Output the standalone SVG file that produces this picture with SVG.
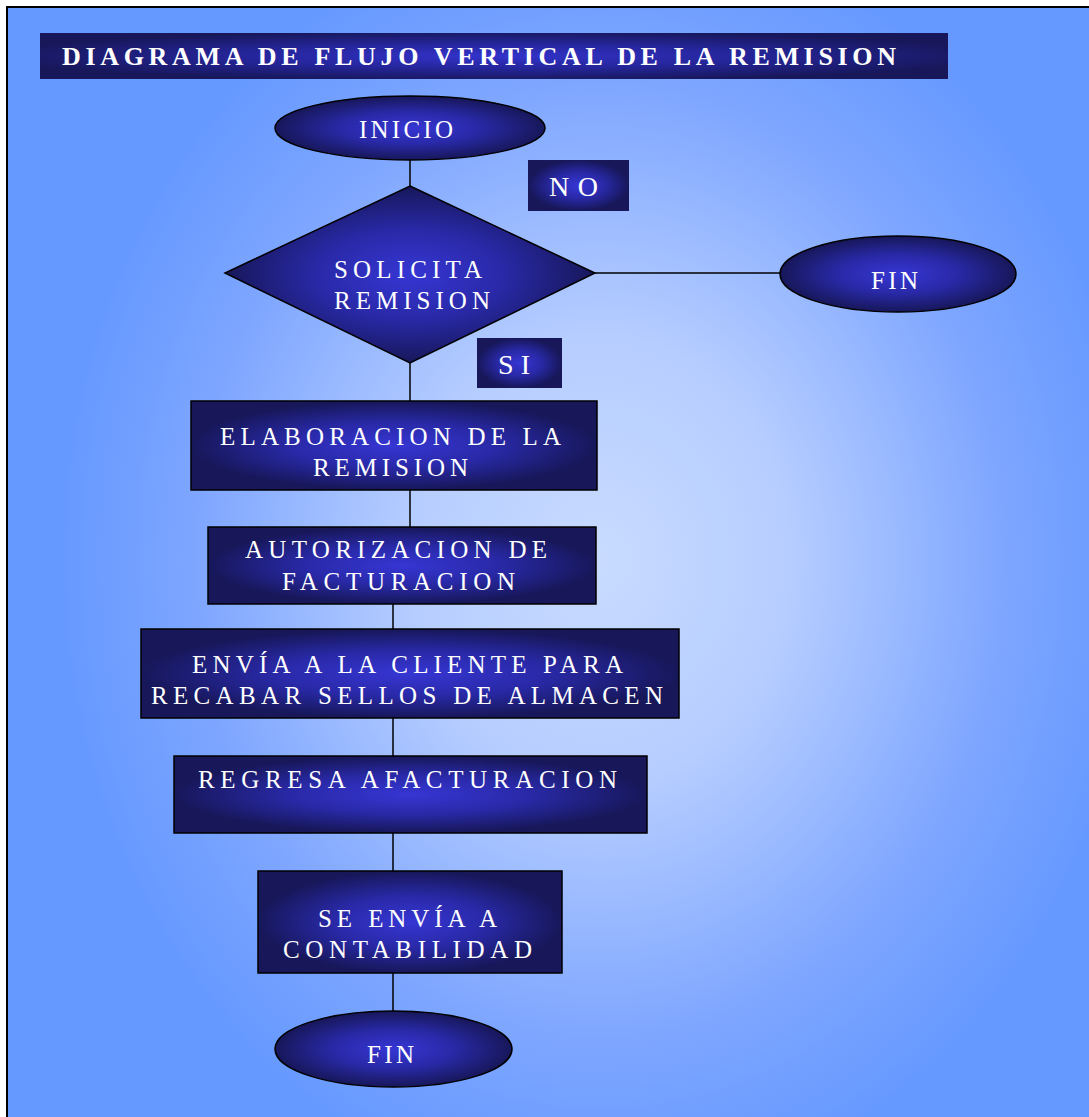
<svg xmlns="http://www.w3.org/2000/svg" width="1089" height="1117" viewBox="0 0 1089 1117">
  <defs>
    <!-- page background: light centre fading to blue edges -->
    <radialGradient id="bg" gradientUnits="userSpaceOnUse" cx="0" cy="0" r="1" gradientTransform="translate(600 560) scale(540 640)">
      <stop offset="0" stop-color="#C8DBFF"/>
      <stop offset="0.35" stop-color="#B6CDFF"/>
      <stop offset="0.75" stop-color="#7EA6FF"/>
      <stop offset="1" stop-color="#6699FF"/>
    </radialGradient>
    <!-- node fill: bright blue centre, dark navy edges -->
    <radialGradient id="node" cx="0.5" cy="0.5" r="0.5">
      <stop offset="0" stop-color="#3636D4"/>
      <stop offset="0.5" stop-color="#2929A8"/>
      <stop offset="1" stop-color="#17175A"/>
    </radialGradient>
    <radialGradient id="bar" cx="0.5" cy="0.5" r="0.55">
      <stop offset="0" stop-color="#3333CC"/>
      <stop offset="0.5" stop-color="#25259A"/>
      <stop offset="1" stop-color="#17175A"/>
    </radialGradient>
    <style>
      .shape { fill: url(#node); stroke: #000; stroke-width: 1.5; }
      .tag { fill: url(#node); stroke: none; }
      .lbl { font-family: "Liberation Serif", "Times New Roman", serif; font-size: 25px; fill: #FFFFFF; }
      .big { font-size: 28px; }
      .ttl { font-family: "Liberation Serif", "Times New Roman", serif; font-size: 26px; font-weight: bold; fill: #FFFFFF; }
      .conn line { stroke: #000; stroke-width: 1.5; }
    </style>
  </defs>

  <!-- background frame -->
  <rect x="0" y="0" width="1089" height="1117" fill="#FFFFFF"/>
  <rect x="7" y="7" width="1100" height="1130" fill="url(#bg)" stroke="#000" stroke-width="2"/>

  <!-- title bar -->
  <g id="title">
    <rect x="40" y="33" width="908" height="46" fill="url(#bar)"/>
    <text class="ttl" x="62" y="65" textLength="834" lengthAdjust="spacing">DIAGRAMA DE FLUJO VERTICAL DE LA REMISION</text>
  </g>

  <!-- connectors -->
  <g id="connectors" class="conn">
    <line x1="410" y1="160" x2="410" y2="186"/>
    <line x1="410" y1="363" x2="410" y2="401"/>
    <line x1="595" y1="273" x2="780" y2="273"/>
    <line x1="410" y1="490" x2="410" y2="527"/>
    <line x1="393" y1="604" x2="393" y2="629"/>
    <line x1="393" y1="718" x2="393" y2="756"/>
    <line x1="393" y1="833" x2="393" y2="871"/>
    <line x1="393" y1="973" x2="393" y2="1011"/>
  </g>

  <g id="inicio">
    <ellipse class="shape" cx="410" cy="128" rx="135" ry="32"/>
    <text class="lbl" x="359" y="138" textLength="94" lengthAdjust="spacing">INICIO</text>
  </g>

  <g id="solicita">
    <polygon class="shape" points="410,186 595,273 410,363 225,273"/>
    <text class="lbl" x="334" y="278" textLength="148" lengthAdjust="spacing">SOLICITA</text>
    <text class="lbl" x="334" y="309" textLength="156" lengthAdjust="spacing">REMISION</text>
  </g>

  <g id="label-no">
    <rect class="tag" x="528" y="160" width="101" height="51"/>
    <text class="lbl big" x="549" y="196" textLength="49" lengthAdjust="spacing">NO</text>
  </g>

  <g id="label-si">
    <rect class="tag" x="477" y="338" width="85" height="50"/>
    <text class="lbl big" x="498" y="374" textLength="32" lengthAdjust="spacing">SI</text>
  </g>

  <g id="fin-no">
    <ellipse class="shape" cx="898" cy="274" rx="118" ry="38"/>
    <text class="lbl" x="871" y="289" textLength="47" lengthAdjust="spacing">FIN</text>
  </g>

  <g id="elaboracion">
    <rect class="shape" x="191" y="401" width="406" height="89"/>
    <text class="lbl" x="220" y="445" textLength="341" lengthAdjust="spacing">ELABORACION DE LA</text>
    <text class="lbl" x="313" y="476" textLength="155" lengthAdjust="spacing">REMISION</text>
  </g>

  <g id="autorizacion">
    <rect class="shape" x="208" y="527" width="388" height="77"/>
    <text class="lbl" x="245" y="558" textLength="302" lengthAdjust="spacing">AUTORIZACION DE</text>
    <text class="lbl" x="282" y="590" textLength="233" lengthAdjust="spacing">FACTURACION</text>
  </g>

  <g id="envia-cliente">
    <rect class="shape" x="141" y="629" width="538" height="89"/>
    <text class="lbl" x="192" y="673" textLength="431" lengthAdjust="spacing">ENVÍA A LA CLIENTE PARA</text>
    <text class="lbl" x="151" y="704" textLength="512" lengthAdjust="spacing">RECABAR SELLOS DE ALMACEN</text>
  </g>

  <g id="regresa">
    <rect class="shape" x="174" y="756" width="473" height="77"/>
    <text class="lbl" x="198" y="788" textLength="419" lengthAdjust="spacing">REGRESA AFACTURACION</text>
  </g>

  <g id="contabilidad">
    <rect class="shape" x="258" y="871" width="304" height="102"/>
    <text class="lbl" x="318" y="927" textLength="179" lengthAdjust="spacing">SE ENVÍA A</text>
    <text class="lbl" x="283" y="958" textLength="249" lengthAdjust="spacing">CONTABILIDAD</text>
  </g>

  <g id="fin">
    <ellipse class="shape" cx="393.5" cy="1049" rx="118.5" ry="38"/>
    <text class="lbl" x="367" y="1063" textLength="47" lengthAdjust="spacing">FIN</text>
  </g>
</svg>
